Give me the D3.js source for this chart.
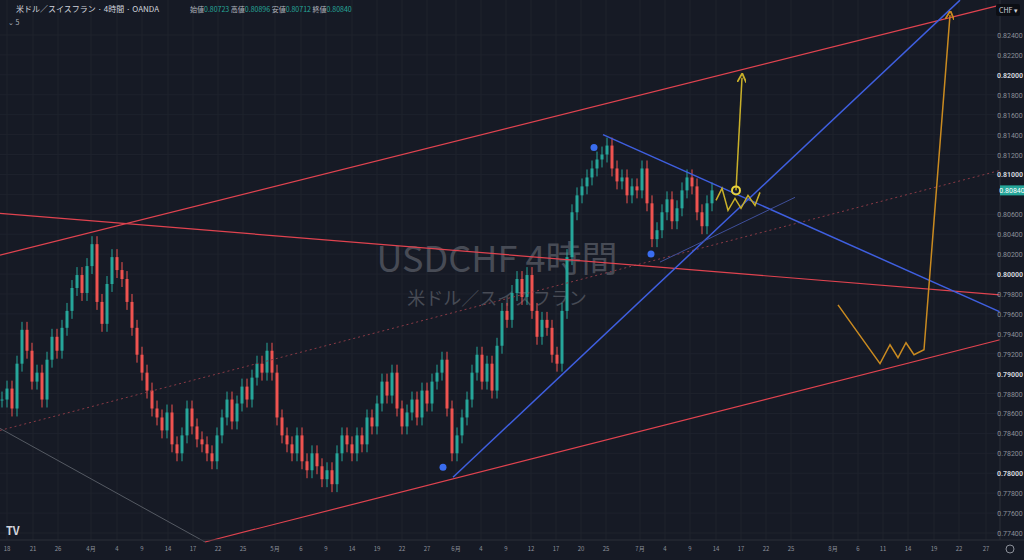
<!DOCTYPE html>
<html><head><meta charset="utf-8">
<script src="https://d3js.org/d3.v7.min.js"></script>
<style>body{margin:0;background:#161a25;font-family:"Noto Sans CJK JP","Noto Sans",sans-serif}</style>
</head><body><svg id="c" width="1024" height="560"></svg>
<script>
// closes, one bar per 4h step
const closes = [0.7874,0.7885,0.7865,0.7910,0.7944,0.7923,0.7892,0.7901,0.7874,0.7914,
0.7937,0.7923,0.7946,0.7963,0.7986,0.7999,0.7981,0.8008,0.8030,0.7972,
0.7950,0.7990,0.8017,0.8004,0.7995,0.7972,0.7946,0.7919,0.7901,0.7883,
0.7865,0.7856,0.7843,0.7861,0.7829,0.7820,0.7838,0.7865,0.7847,0.7834,
0.7829,0.7820,0.7812,0.7838,0.7856,0.7874,0.7852,0.7870,0.7887,0.7874,
0.7896,0.7910,0.7901,0.7923,0.7901,0.7856,0.7838,0.7829,0.7820,0.7838,
0.7812,0.7803,0.7820,0.7807,0.7794,0.7803,0.7789,0.7820,0.7838,0.7829,
0.7820,0.7838,0.7829,0.7856,0.7847,0.7870,0.7892,0.7878,0.7901,0.7865,
0.7847,0.7861,0.7874,0.7856,0.7883,0.7870,0.7892,0.7901,0.7914,0.7865,
0.7820,0.7838,0.7856,0.7874,0.7901,0.7919,0.7892,0.7910,0.7883,0.7928,
0.7963,0.7954,0.7981,0.7995,0.7977,0.7999,0.7963,0.7937,0.7954,0.7946,
0.7919,0.7910,0.7963,0.8017,0.8062,0.8079,0.8088,0.8097,0.8106,0.8115,
0.8120,0.8129,0.8106,0.8093,0.8097,0.8079,0.8088,0.8084,0.8106,0.8071,
0.8035,0.8044,0.8062,0.8075,0.8053,0.8066,0.8084,0.8097,0.8088,0.8062,
0.8048,0.8071,0.8084];
const dateTicks = [[1,"18"],[6.2,"21"],[11.2,"26"],[17.8,"4月"],[23,"4"],[28,"9"],[33.2,"14"],[38.2,"17"],[43.2,"22"],[48.2,"25"],[54.6,"5月"],[59.8,"6"],[64.8,"9"],[70,"14"],[75,"19"],[80,"22"],[85,"27"],[90.8,"6月"],[95.8,"4"],[100.8,"9"],[105.8,"12"],[110.8,"17"],[115.8,"20"],[120.8,"25"],[127.6,"7月"],[132.6,"4"],[137.6,"9"],[142.8,"14"],[147.8,"17"],[152.8,"22"],[157.8,"25"],[166.2,"8月"],[171.2,"6"],[176.2,"11"],[181.2,"14"],[186.4,"19"],[191.4,"22"],[196.8,"27"]];
const priceTicks = d3.range(0.774,0.8241,0.002);
const lastPrice = 0.80840;
// trend lines [bar index, price]
const redLines = [[[-0.4,0.8019],[199.6,0.8270]],[[-0.4,0.8061],[199.6,0.7979]],[[40.6,0.7731],[199.6,0.7934]]];
const blueLines = [[[90.2,0.7796],[191.6,0.8275]],[[120.2,0.8140],[199.6,0.7962]]];
const blueThin = [[131.6,0.8012],[158.6,0.8077]];
const dottedRed = [[-0.4,0.7843],[199.6,0.8104]];
const greyLine = [[-0.4,0.7845],[40.6,0.7731]];
const yellowZig = [[142.8,0.8074],[144,0.8086],[145.2,0.8064],[146.6,0.8076],[147.8,0.8066],[149.2,0.8079],[150.6,0.8069],[151.6,0.8082]];
const yellowArrow = [[146.8,0.8084],[148,0.8197]];
const orangePath = [[167.2,0.7969],[175.6,0.7910],[177.6,0.7929],[179.2,0.7916],[180.8,0.7931],[182.4,0.7919],[184.4,0.7924],[189.6,0.8260]];
const blueDots = [[118.4,0.8127],[129.8,0.8020],[88.2,0.7806]];

const svg = d3.select("#c");
const x = d3.scaleLinear().domain([0,200]).range([2,1002]);
const y = d3.scaleLinear().domain([0.774,0.824]).range([533,35]);
const W=1000,H=540;
svg.append("rect").attr("width",1024).attr("height",560).attr("fill","#161a25");
const g = svg.append("g");
// grid
g.selectAll(".hg").data(priceTicks).join("line").attr("x1",0).attr("x2",W).attr("y1",d=>y(d)).attr("y2",d=>y(d)).attr("stroke","#1e222d");
g.selectAll(".vg").data(dateTicks).join("line").attr("x1",d=>x(d[0])).attr("x2",d=>x(d[0])).attr("y1",0).attr("y2",H).attr("stroke","#1e222d");
// watermark
g.append("text").attr("x",497).attr("y",272).attr("text-anchor","middle").attr("font-size",36).attr("fill","#474b55").text("USDCHF 4時間");
g.append("text").attr("x",497).attr("y",305).attr("text-anchor","middle").attr("font-size",18).attr("fill","#474b55").text("米ドル／スイスフラン");
// candles
const bars = closes.map((c,i)=>{const o=i?closes[i-1]:c; return {i,o,c,h:Math.max(o,c)+0.0008,l:Math.min(o,c)-0.0008};});
const cg = g.selectAll(".cd").data(bars).join("g");
cg.append("line").attr("x1",d=>x(d.i)).attr("x2",d=>x(d.i)).attr("y1",d=>y(d.h)).attr("y2",d=>y(d.l)).attr("stroke",d=>d.c>=d.o?"#26a69a":"#ef5350");
cg.append("rect").attr("x",d=>x(d.i)-1.5).attr("width",3).attr("y",d=>y(Math.max(d.o,d.c))).attr("height",d=>Math.max(1,Math.abs(y(d.o)-y(d.c)))).attr("fill",d=>d.c>=d.o?"#26a69a":"#ef5350");
const line = d3.line().x(d=>x(d[0])).y(d=>y(d[1]));
g.append("path").attr("d",line(greyLine)).attr("stroke","#555a63").attr("fill","none");
g.append("path").attr("d",line(dottedRed)).attr("stroke","#8a3a45").attr("stroke-dasharray","2,3").attr("fill","none");
redLines.forEach(l=>g.append("path").attr("d",line(l)).attr("stroke","#e0434f").attr("stroke-width",1.2).attr("fill","none"));
blueLines.forEach(l=>g.append("path").attr("d",line(l)).attr("stroke","#3f5fe0").attr("stroke-width",1.5).attr("fill","none"));
g.append("path").attr("d",line(blueThin)).attr("stroke","#3f4f9a").attr("fill","none");
g.append("path").attr("d",line(yellowZig)).attr("stroke","#c9b02a").attr("stroke-width",1.5).attr("fill","none");
svg.append("defs").html('<marker id="ay" viewBox="0 0 10 10" refX="5" refY="5" markerWidth="6" markerHeight="6" orient="auto"><path d="M0,0L10,5L0,10" fill="none" stroke="#c9b02a" stroke-width="2"/></marker><marker id="ao" viewBox="0 0 10 10" refX="5" refY="5" markerWidth="6" markerHeight="6" orient="auto"><path d="M0,0L10,5L0,10" fill="none" stroke="#c98a20" stroke-width="2"/></marker>');
g.append("path").attr("d",line(yellowArrow)).attr("stroke","#c9b02a").attr("stroke-width",1.5).attr("fill","none").attr("marker-end","url(#ay)");
g.append("path").attr("d",line(orangePath)).attr("stroke","#c98a20").attr("stroke-width",1.5).attr("fill","none").attr("marker-end","url(#ao)");
g.append("circle").attr("cx",x(yellowArrow[0][0])).attr("cy",y(yellowArrow[0][1])).attr("r",4).attr("fill","none").attr("stroke","#e8d23a").attr("stroke-width",2);
g.selectAll(".bd").data(blueDots).join("circle").attr("cx",d=>x(d[0])).attr("cy",d=>y(d[1])).attr("r",3.5).attr("fill","#3a6df0");
// price axis
const isMajor = d=>Math.abs(d*100-Math.round(d*100))<1e-6;
svg.append("line").attr("x1",W).attr("x2",W).attr("y1",0).attr("y2",H).attr("stroke","#2a2e39");
svg.selectAll(".pt").data(priceTicks.filter(d=>Math.abs(d-lastPrice)>0.0006)).join("text").attr("x",1010).attr("y",d=>y(d)+3).attr("text-anchor","middle").attr("font-size",7).attr("font-family","Roboto").attr("fill",d=>isMajor(d)?"#d1d4dc":"#8b8f99").attr("font-weight",d=>isMajor(d)?"bold":"normal").text(d=>d.toFixed(5));
svg.append("rect").attr("x",1000).attr("y",y(lastPrice)-5).attr("width",24).attr("height",10).attr("fill","#26a69a");
svg.append("text").attr("x",1012).attr("y",y(lastPrice)+3).attr("text-anchor","middle").attr("font-size",7).attr("font-family","Roboto").attr("fill","#fff").text(lastPrice.toFixed(5));
svg.append("rect").attr("x",996).attr("y",4).attr("width",24).attr("height",12).attr("rx",2).attr("fill","#0c0e14");
svg.append("text").attr("x",999).attr("y",13).attr("font-size",7).attr("fill","#d1d4dc").text("CHF ▾");
// date axis
svg.append("line").attr("x1",0).attr("x2",1024).attr("y1",H).attr("y2",H).attr("stroke","#2a2e39");
svg.selectAll(".dt").data(dateTicks).join("text").attr("x",d=>x(d[0])).attr("y",551).attr("text-anchor","middle").attr("font-size",6).attr("fill","#8b8f99").text(d=>d[1]);
svg.append("circle").attr("cx",1010).attr("cy",549).attr("r",4).attr("fill","none").attr("stroke","#8b8f99");
// header
svg.append("text").attr("x",16).attr("y",12).attr("font-size",8).attr("fill","#d1d4dc").text("米ドル／スイスフラン · 4時間 · OANDA");
const hdr=[["始値","0.80723"],["高値","0.80896"],["安値","0.80712"],["終値","0.80840"]];
const ht=svg.append("text").attr("x",190).attr("y",12).attr("font-size",7);
hdr.forEach(h=>{ht.append("tspan").attr("fill","#b2b5be").text(h[0]);ht.append("tspan").attr("fill","#26a69a").text(h[1]+"  ");});
svg.append("text").attr("x",8).attr("y",25).attr("font-size",7).attr("fill","#b2b5be").text("⌄ 5");
svg.append("text").attr("x",6).attr("y",535).attr("font-size",11).attr("font-weight","bold").attr("fill","#d1d4dc").text("TV");
</script></body></html>
